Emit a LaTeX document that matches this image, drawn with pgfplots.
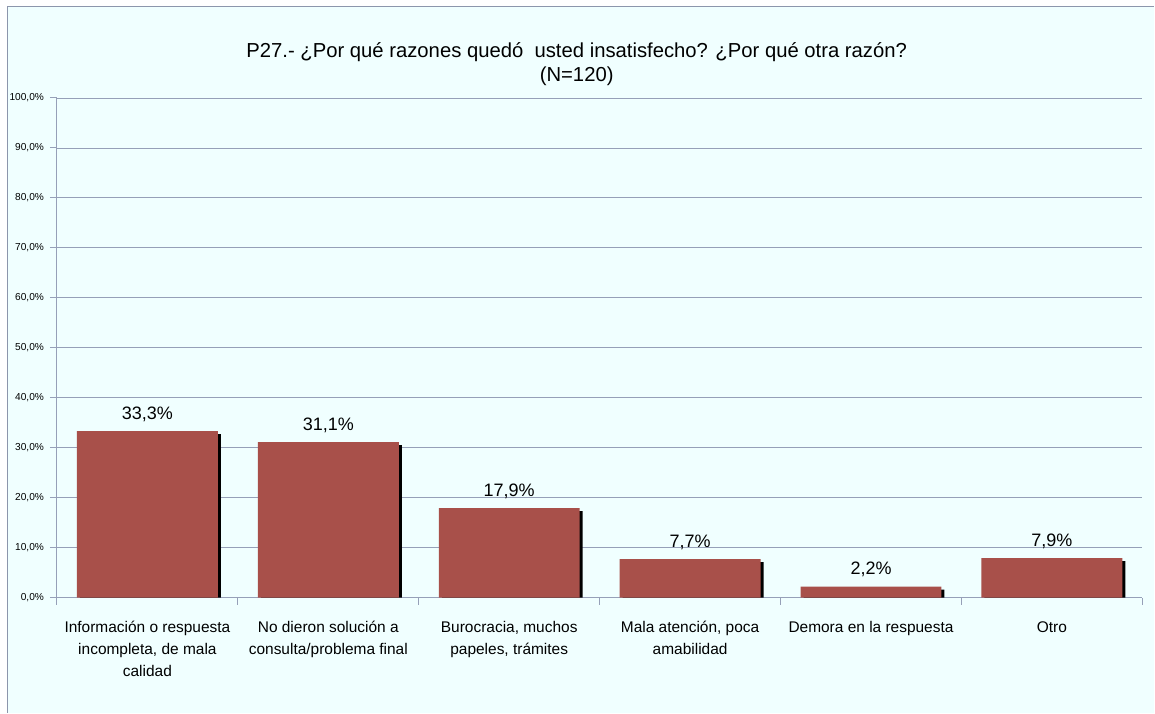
\documentclass[border=0pt]{standalone}
\usepackage{pgfplots}
\pgfplotsset{compat=1.18}
\usepackage{fontspec}
\setmainfont{Liberation Sans}
\definecolor{bg}{RGB}{240,255,255}
\definecolor{barred}{RGB}{168,80,74}
\definecolor{gridc}{RGB}{150,160,184}
\definecolor{framec}{RGB}{140,150,172}
\begin{document}
\begin{tikzpicture}[x=0.75pt,y=0.75pt]
\fill[white] (0,0) rectangle (1155,713);
\fill[bg] (7.5,0) rectangle (1155,706.5);
\draw[framec, line width=1pt] (7.5,0) -- (7.5,706.5) -- (1155,706.5);
\node[align=center, font=\fontsize{15.2}{18}\selectfont] at (577,649) {P27.- ¿Por qué razones quedó\ \ usted insatisfecho? ¿Por qué otra razón?\\(N=120)};
\begin{axis}[
  at={(42.75pt,86.25pt)}, anchor=south west,
  scale only axis, width=814.5pt, height=375pt,
  xmin=-0.5, xmax=5.5, ymin=0, ymax=100,
  axis x line*=bottom, axis y line*=left,
  axis line style={gridc, line width=0.75pt},
  ymajorgrids, grid style={gridc, line width=0.6pt},
  ytick={0,10,...,100},
  yticklabels={{0,0\%},{10,0\%},{20,0\%},{30,0\%},{40,0\%},{50,0\%},{60,0\%},{70,0\%},{80,0\%},{90,0\%},{100,0\%}},
  yticklabel style={font=\fontsize{7.6}{9}\selectfont, xshift=-1pt},
  y tick style={gridc, line width=0.75pt},
  tick align=outside, major tick length=5.25pt,
  xtick={0,...,5},
  x tick style={draw=none},
  xticklabels={{Información o respuesta\\incompleta, de mala\\calidad},{No dieron solución a\\consulta/problema final},{Burocracia, muchos\\papeles, trámites},{Mala atención, poca\\amabilidad},{Demora en la respuesta},{Otro}},
  xticklabel style={font=\fontsize{11.6}{16.5}\selectfont, align=center, yshift=-9pt},
  extra x ticks={-0.5,0.5,1.5,2.5,3.5,4.5,5.5},
  extra x tick labels={},
  extra x tick style={x tick style={draw=gridc, line width=0.75pt}, major tick length=5.25pt},
  clip=false,
]
\addplot[ybar, bar width=105.75pt, bar shift=2.25pt, fill=black, draw=none] coordinates {
 (0,32.7) (1,30.5) (2,17.3) (3,7.1) (4,1.6) (5,7.3)};
\addplot[ybar, bar width=105.75pt, bar shift=0pt, fill=barred, draw=none,
  point meta=explicit symbolic,
  nodes near coords,
  every node near coord/.append style={font=\fontsize{13.5}{15}\selectfont, anchor=base, yshift=9pt, text=black}]
 coordinates {
 (0,33.3) [33,3\%]
 (1,31.1) [31,1\%]
 (2,17.9) [17,9\%]
 (3,7.7) [7,7\%]
 (4,2.2) [2,2\%]
 (5,7.9) [7,9\%]};
\end{axis}
\end{tikzpicture}
\end{document}
